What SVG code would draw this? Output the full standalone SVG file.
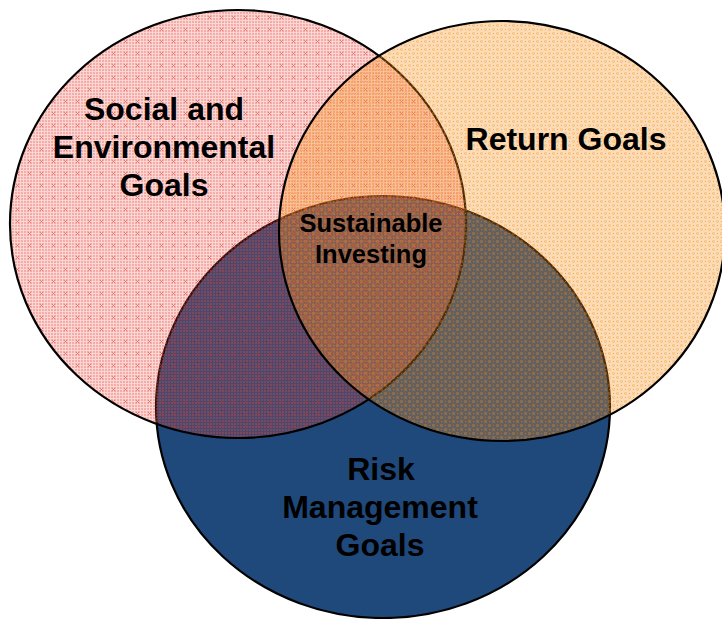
<svg xmlns="http://www.w3.org/2000/svg" width="722" height="619" viewBox="0 0 722 619">
  <defs>
    <!-- fine red lattice with small crosses -->
    <pattern id="pinkTex" width="12" height="12" patternUnits="userSpaceOnUse">
      <rect width="12" height="12" fill="#e8483c" fill-opacity="0.22"/>
      <path d="M0 0h2v2h-2zM3 0h2v2h-2zM6 0h2v2h-2zM9 0h2v2h-2zM0 3h2v2h-2zM3 3h2v2h-2zM6 3h2v2h-2zM9 3h2v2h-2zM0 6h2v2h-2zM3 6h2v2h-2zM6 6h2v2h-2zM9 6h2v2h-2zM0 9h2v2h-2zM3 9h2v2h-2zM6 9h2v2h-2zM9 9h2v2h-2z" fill="#e8483c" fill-opacity="0.3"/>
      <path d="M4 4l3 3M7 4l-3 3" stroke="#d8352c" stroke-opacity="0.55" stroke-width="0.8"/>
    </pattern>
    <!-- fine orange lattice with light dots -->
    <pattern id="orangeTex" width="8" height="8" patternUnits="userSpaceOnUse">
      <rect width="8" height="8" fill="#f7941e" fill-opacity="0.32"/>
      <path d="M0 0h3v3h-3zM4 4h3v3h-3z" fill="#f7941e" fill-opacity="0.25"/>
      <path d="M1 5h1v1h-1zM5 1h1v1h-1z" fill="#f07a10" fill-opacity="0.6"/>
    </pattern>
    <style>
      .ring { stroke: #000; stroke-width: 2.2; }
      .label { font-family: "Liberation Sans", Arial, sans-serif; font-weight: bold; fill: #000; text-anchor: middle; }
      .big { font-size: 32px; }
      .small { font-size: 25.5px; }
    </style>
  </defs>

  <rect width="722" height="619" fill="#fff"/>

  <g id="risk">
    <ellipse class="ring" cx="383" cy="407" rx="227" ry="211" fill="#1f487b"/>
  </g>
  <g id="social">
    <ellipse class="ring" cx="238" cy="224" rx="228" ry="214" fill="url(#pinkTex)"/>
  </g>
  <g id="return">
    <ellipse class="ring" cx="502" cy="231" rx="223" ry="210" fill="url(#orangeTex)"/>
  </g>

  <g id="labels">
    <text class="label big" x="164" y="120">Social and</text>
    <text class="label big" x="164" y="158">Environmental</text>
    <text class="label big" x="164" y="196">Goals</text>
    <text class="label big" x="566" y="150">Return Goals</text>
    <text class="label small" x="371" y="232">Sustainable</text>
    <text class="label small" x="371" y="263">Investing</text>
    <text class="label big" x="381" y="480">Risk</text>
    <text class="label big" x="380" y="518">Management</text>
    <text class="label big" x="380" y="556">Goals</text>
  </g>
</svg>
